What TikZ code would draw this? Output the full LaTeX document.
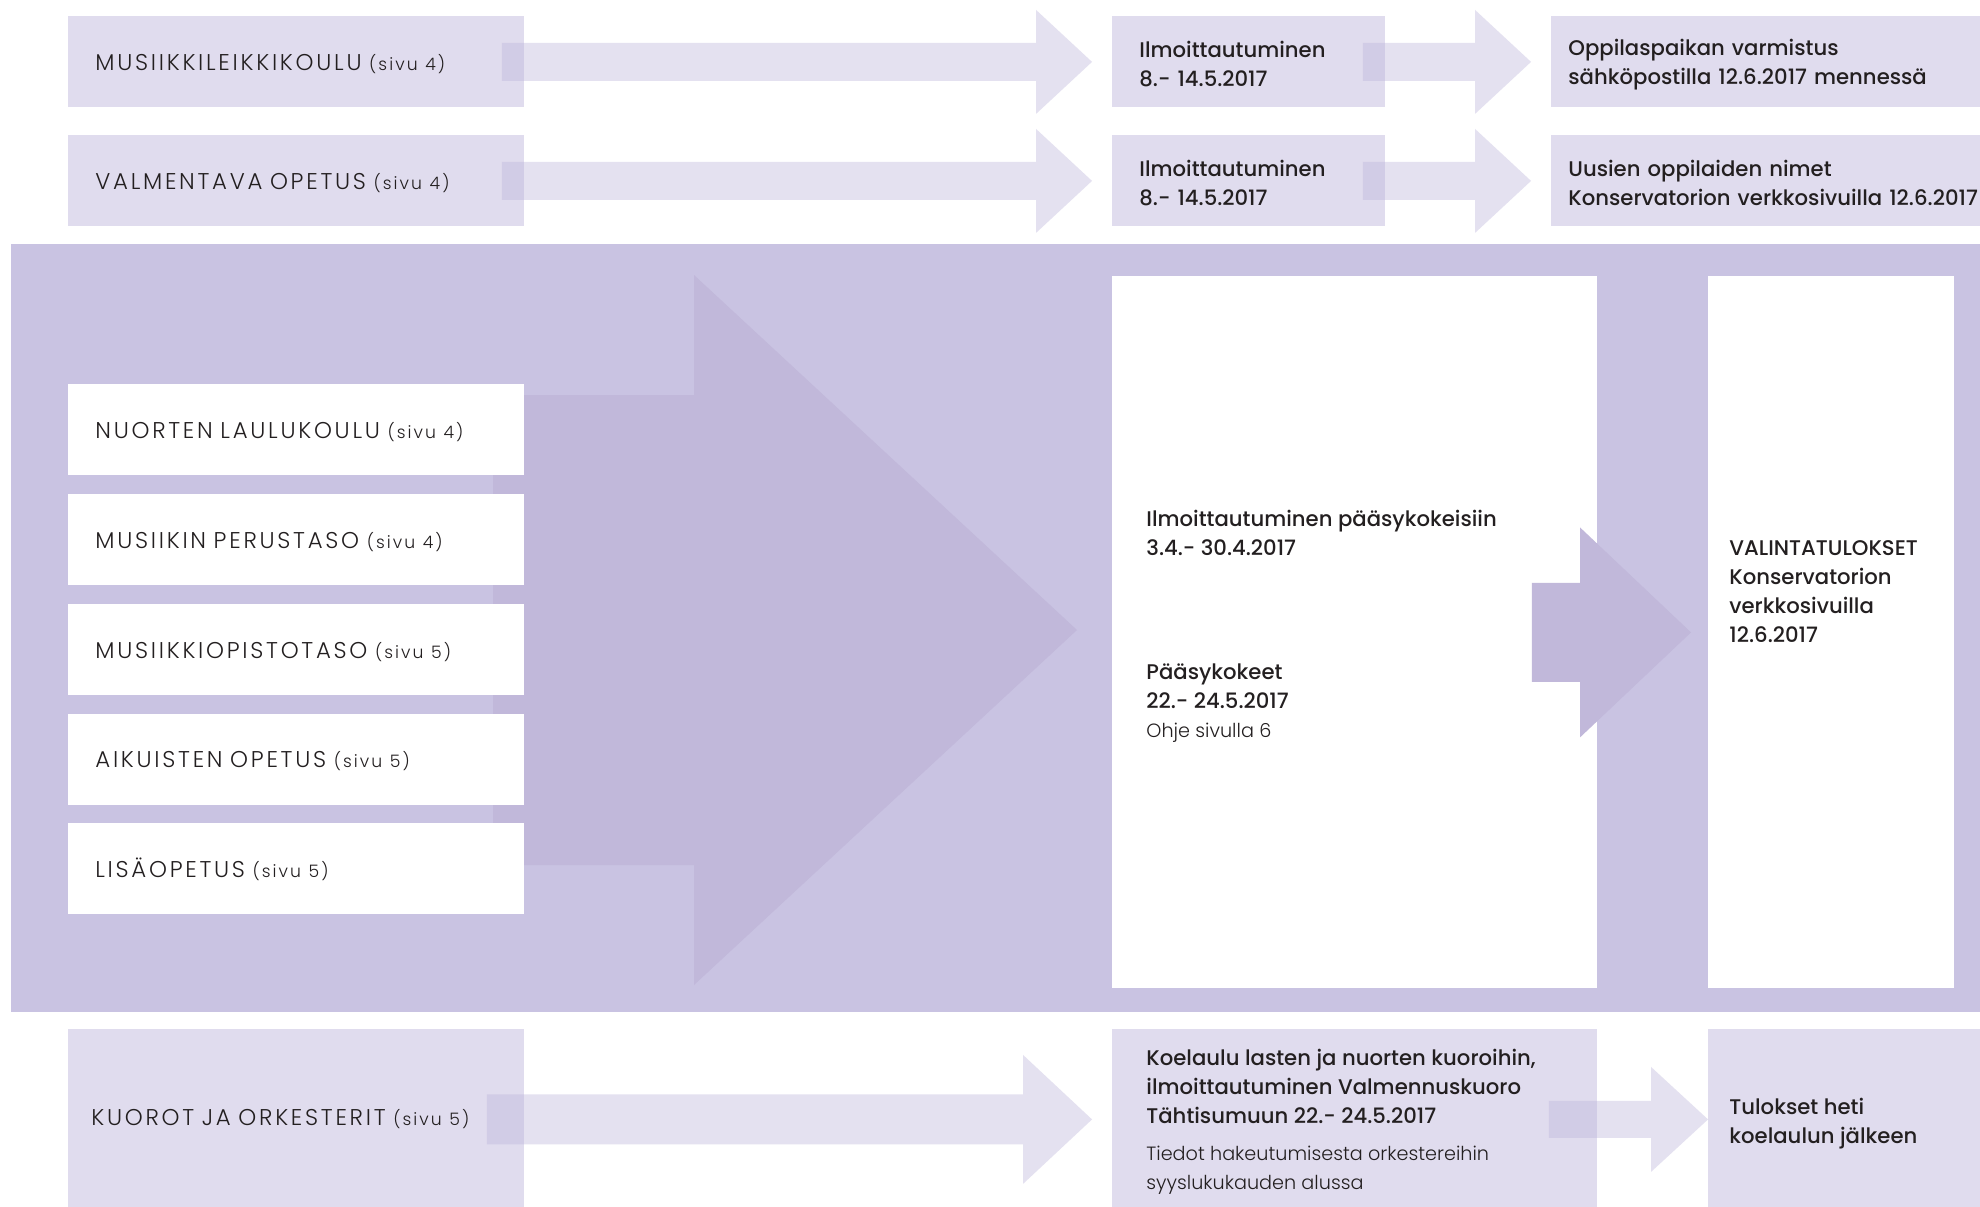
\documentclass[tikz,border=0pt]{standalone}
\usepackage{fontspec}
\setmainfont{Poppins}
\IfFontExistsTF{Poppins Light}
  {\newfontfamily\capsfont[LetterSpace=12]{Poppins Light}\newfontfamily\thinfont{Poppins Light}}
  {\newfontfamily\capsfont[LetterSpace=12]{Poppins}\newfontfamily\thinfont{Poppins}}
\IfFontExistsTF{Poppins Medium}
  {\newfontfamily\medfont{Poppins Medium}}
  {\newfontfamily\medfont[FakeBold=1.2]{Poppins}}
\usetikzlibrary{calc}

\definecolor{bandcol}{RGB}{201,195,226}
\definecolor{deepcol}{RGB}{193,184,218}
\definecolor{palecol}{RGB}{224,220,238}
\definecolor{tintcol}{RGB}{188,180,218}
\definecolor{inkcol}{RGB}{35,31,32}

% block arrow: style, start, tip, shaft half, head half, head length
\newcommand{\blockarrow}[6]{%
  \fill[#1] ($(#2)+(0,#4)$) -- ($(#3)+(-#6,#4)$) -- ($(#3)+(-#6,#5)$) -- (#3)
    -- ($(#3)+(-#6,-#5)$) -- ($(#3)+(-#6,-#4)$) -- ($(#2)+(0,-#4)$) -- cycle;}
\newcommand{\sivu}[1]{{\fontsize{8.6}{10}\selectfont #1}}
\newcommand{\medtxt}{\medfont\fontsize{10.6}{14.5}\selectfont}
\newcommand{\lighttxt}{\thinfont\fontsize{9.6}{14.5}\selectfont}
\newcommand{\capstrut}{\rule{0pt}{10.3pt}}
\newcommand{\medstrut}{\rule{0pt}{10.6pt}}

\tikzset{
  palebox/.style={fill=palecol, anchor=north west, inner xsep=13.5pt, inner ysep=0pt,
    align=left, text=inkcol, font=\medtxt},
  whitebox/.style={palebox, fill=white},
  caps/.style={font=\capsfont\fontsize{11.4}{12}\selectfont},
  tint/.style={fill=tintcol, fill opacity=0.4},
  deep/.style={fill=deepcol},
  txt/.style={anchor=north west, inner sep=0pt, align=left, text=inkcol, font=\medtxt}
}

\begin{document}
\begin{tikzpicture}[x=0.5pt,y=-0.5pt]
\useasboundingbox (0,0) rectangle (1980,1206);
\clip (0,0) rectangle (1980,1206);
\fill[white] (0,0) rectangle (1980,1206);

% top rows
\node[palebox, caps, text width=201pt, minimum height=45.5pt] (leikki) at (68,16) {\capstrut MUSIIKKILEIKKIKOULU \sivu{(sivu 4)}};
\node[palebox, text width=109.5pt, minimum height=45.5pt] (ilmA) at (1112,16) {\medstrut Ilmoittautuminen\\8.- 14.5.2017};
\node[palebox, inner xsep=8.5pt, text width=233pt, minimum height=45.5pt] (varmA) at (1551,16) {\medstrut Oppilaspaikan varmistus\\sähköpostilla 12.6.2017 mennessä};

\node[palebox, caps, text width=201pt, minimum height=45.5pt] (valm) at (68,135) {\capstrut VALMENTAVA OPETUS \sivu{(sivu 4)}};
\node[palebox, text width=109.5pt, minimum height=45.5pt] (ilmB) at (1112,135) {\medstrut Ilmoittautuminen\\8.- 14.5.2017};
\node[palebox, inner xsep=8.5pt, text width=233pt, minimum height=45.5pt] (nimetB) at (1551,135) {\medstrut Uusien oppilaiden nimet\\Konservatorion verkkosivuilla 12.6.2017};

\coordinate (s1) at ([xshift=-11.5pt]leikki.east);
\coordinate (e1) at ([xshift=-10pt]ilmA.west);
\coordinate (s2) at ([xshift=-11.5pt]ilmA.east);
\coordinate (e2) at ([xshift=-10pt]varmA.west);
\coordinate (s3) at ([xshift=-11.5pt]valm.east);
\coordinate (e3) at ([xshift=-10pt]ilmB.west);
\coordinate (s4) at ([xshift=-11.5pt]ilmB.east);
\coordinate (e4) at ([xshift=-10pt]nimetB.west);
\blockarrow{tint}{s1}{e1}{19}{52}{56}
\blockarrow{tint}{s2}{e2}{19}{52}{56}
\blockarrow{tint}{s3}{e3}{19}{52}{56}
\blockarrow{tint}{s4}{e4}{19}{52}{56}

% main band
\fill[bandcol] (11,244) rectangle (1990,1012);
\coordinate (bs) at (493,630);
\coordinate (bt) at (1077,630);
\blockarrow{deep}{bs}{bt}{235}{355}{383}

\foreach \nm/\txt/\pg [count=\i from 0] in {laulu/NUORTEN LAULUKOULU/4, perus/MUSIIKIN PERUSTASO/4,
    opisto/MUSIIKKIOPISTOTASO/5, aikuis/AIKUISTEN OPETUS/5, lisa/LISÄOPETUS/5}
  \node[whitebox, caps, text width=201pt, minimum height=45.5pt] (\nm) at (68,{384+109.75*\i}) {\capstrut\txt\ \sivu{(sivu \pg)}};

\node[whitebox, minimum width=242.5pt, minimum height=356pt] (ilmo) at (1112,276) {};
\node[whitebox, minimum width=123pt, minimum height=356pt] (tulos) at (1708,276) {};
\coordinate (s5) at ([xshift=-33pt]ilmo.east);
\coordinate (e5) at ([xshift=-8.5pt]tulos.west);
\blockarrow{deep}{s5}{e5}{49.5}{105}{111}

\node[txt] (ilmotxt) at (1146,510) {Ilmoittautuminen pääsykokeisiin\\3.4.- 30.4.2017\\[47.5pt]Pääsykokeet\\22.- 24.5.2017\\{\lighttxt Ohje sivulla 6}};
\node[txt] (valtxt) at (1729,540) {VALINTATULOKSET\\Konservatorion\\verkkosivuilla\\12.6.2017};

% bottom row
\node[palebox, caps, inner xsep=11.5pt, text width=205pt, minimum height=90pt] (kuorot) at (68,1029) {KUOROT JA ORKESTERIT \sivu{(sivu 5)}};
\node[palebox, minimum width=242.5pt, minimum height=90pt] (koe) at (1112,1029) {};
\node[palebox, minimum width=146pt, minimum height=90pt] (heti) at (1708,1029) {};
\coordinate (s6) at ([xshift=-19pt]kuorot.east);
\coordinate (e6) at ([xshift=-10pt]koe.west);
\coordinate (s7) at ([xshift=-24.5pt]koe.east);
\coordinate (e7) at (heti.west);
\blockarrow{tint}{s6}{e6}{25}{64.5}{69}
\blockarrow{tint}{s7}{e7}{18.5}{52.5}{57}

\node[txt] (koetxt) at (1146,1049) {Koelaulu lasten ja nuorten kuoroihin,\\ilmoittautuminen Valmennuskuoro\\Tähtisumuun 22.- 24.5.2017\\[4pt]{\lighttxt Tiedot hakeutumisesta orkestereihin}\\{\lighttxt syyslukukauden alussa}};
\node[txt] (hetitxt) at (1729,1098) {Tulokset heti\\koelaulun jälkeen};
\end{tikzpicture}
\end{document}
